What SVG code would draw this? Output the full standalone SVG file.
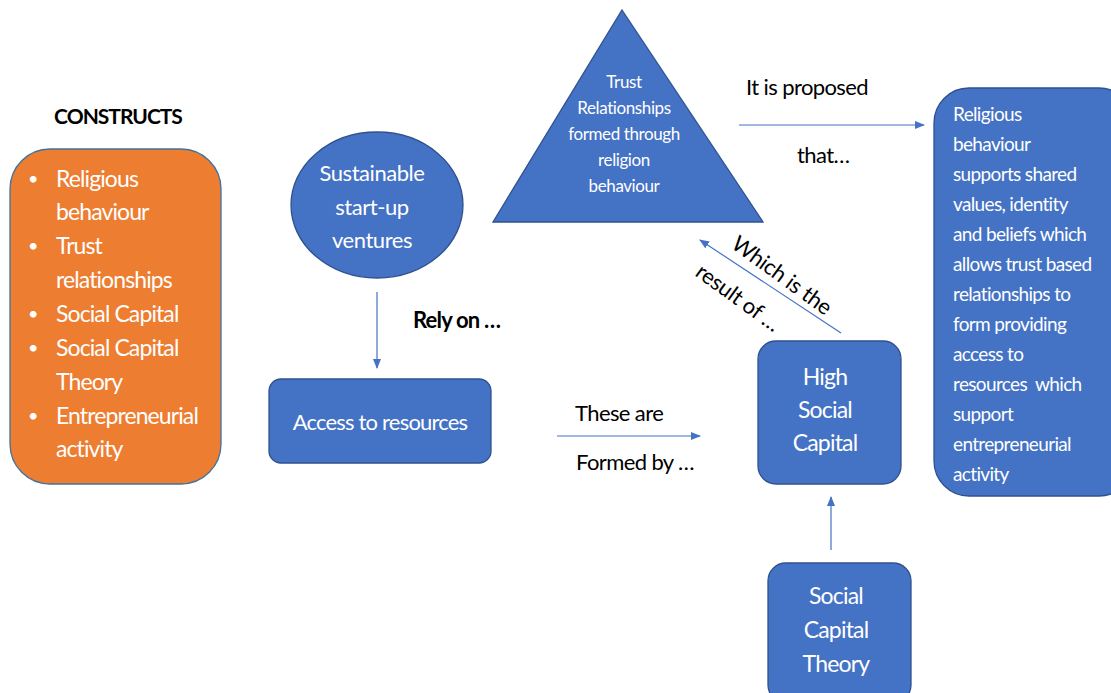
<svg xmlns="http://www.w3.org/2000/svg" width="1111" height="693" viewBox="0 0 1111 693">
  <defs>
    <marker id="arrow" markerWidth="10" markerHeight="8" refX="9" refY="4" orient="auto" markerUnits="userSpaceOnUse">
      <path d="M0,0 L10,4 L0,8 Z" fill="#4472C4"/>
    </marker>
  </defs>
  <style>
    text { font-family: Lato, "Open Sans", "Liberation Sans", sans-serif; }
    .node { fill: #4472C4; stroke: #2F528F; stroke-width: 1.3; }
    .orange { fill: #ED7D31; stroke: #41719C; stroke-width: 1.3; }
    .w { fill: #FFFFFF; }
    .k { fill: #000000; }
    .conn { stroke: #4472C4; stroke-width: 1.2; fill: none; marker-end: url(#arrow); }
  </style>
  <rect width="1111" height="693" fill="#FFFFFF"/>

  <!-- Constructs list -->
  <g id="constructs">
    <text x="118" y="124" font-size="21" font-weight="bold" class="k" text-anchor="middle" letter-spacing="-1">CONSTRUCTS</text>
    <rect class="orange" x="10" y="149" width="211" height="335" rx="40"/>
    <g class="w" font-size="18">
      <text x="28" y="185">•</text>
      <text x="28" y="252">•</text>
      <text x="28" y="320">•</text>
      <text x="28" y="354">•</text>
      <text x="28" y="422">•</text>
    </g>
    <g class="w" font-size="23" letter-spacing="-0.9">
      <text x="56" y="187">Religious</text>
      <text x="56" y="220">behaviour</text>
      <text x="56" y="254">Trust</text>
      <text x="56" y="288">relationships</text>
      <text x="56" y="322">Social Capital</text>
      <text x="56" y="356">Social Capital</text>
      <text x="56" y="390">Theory</text>
      <text x="56" y="424">Entrepreneurial</text>
      <text x="56" y="457">activity</text>
    </g>
  </g>

  <!-- Sustainable start-up ventures -->
  <g id="ventures">
    <ellipse class="node" cx="377" cy="205" rx="86" ry="73"/>
    <g class="w" font-size="22" text-anchor="middle" letter-spacing="-0.45">
      <text x="372" y="181">Sustainable</text>
      <text x="372" y="215">start-up</text>
      <text x="372" y="248">ventures</text>
    </g>
  </g>

  <!-- Access to resources -->
  <g id="access">
    <rect class="node" x="269" y="379" width="222" height="84" rx="12"/>
    <text x="380" y="430" font-size="22" class="w" text-anchor="middle" letter-spacing="-0.8">Access to resources</text>
  </g>

  <!-- Trust relationships triangle -->
  <g id="trust">
    <polygon class="node" points="622,10 763,222 493,222"/>
    <g class="w" font-size="17" text-anchor="middle" letter-spacing="-0.4">
      <text x="624" y="88">Trust</text>
      <text x="624" y="114">Relationships</text>
      <text x="624" y="140">formed through</text>
      <text x="624" y="166">religion</text>
      <text x="624" y="192">behaviour</text>
    </g>
  </g>

  <!-- Proposition -->
  <g id="proposition">
    <rect class="node" x="934" y="88" width="200" height="408" rx="35"/>
    <g class="w" font-size="19" letter-spacing="-0.65">
      <text x="953" y="121">Religious</text>
      <text x="953" y="151">behaviour</text>
      <text x="953" y="181">supports shared</text>
      <text x="953" y="211">values, identity</text>
      <text x="953" y="241">and beliefs which</text>
      <text x="953" y="271">allows trust based</text>
      <text x="953" y="301">relationships to</text>
      <text x="953" y="331">form providing</text>
      <text x="953" y="361">access to</text>
      <text x="953" y="391" xml:space="preserve">resources  which</text>
      <text x="953" y="421">support</text>
      <text x="953" y="451">entrepreneurial</text>
      <text x="953" y="481">activity</text>
    </g>
  </g>

  <!-- High Social Capital -->
  <g id="high-social-capital">
    <rect class="node" x="758" y="341" width="143" height="143" rx="18"/>
    <g class="w" font-size="23" text-anchor="middle" letter-spacing="-0.8">
      <text x="825" y="385">High</text>
      <text x="825" y="418">Social</text>
      <text x="825" y="451">Capital</text>
    </g>
  </g>

  <!-- Social Capital Theory -->
  <g id="social-capital-theory">
    <rect class="node" x="768" y="563" width="143" height="140" rx="18"/>
    <g class="w" font-size="23" text-anchor="middle" letter-spacing="-0.8">
      <text x="836" y="604">Social</text>
      <text x="836" y="638">Capital</text>
      <text x="836" y="672">Theory</text>
    </g>
  </g>

  <!-- Connectors and their labels -->
  <g id="connectors">
    <line class="conn" x1="377" y1="292" x2="377" y2="368"/>
    <line class="conn" x1="557" y1="436" x2="700" y2="436"/>
    <line class="conn" x1="739" y1="125" x2="924" y2="125"/>
    <line class="conn" x1="841" y1="333" x2="700" y2="240"/>
    <line class="conn" x1="831" y1="550" x2="831" y2="497"/>
    <g class="k" font-size="22" letter-spacing="-0.6">
      <text x="413" y="328" font-weight="bold" letter-spacing="-0.8">Rely on …</text>
      <text x="575" y="421">These are</text>
      <text x="576" y="470">Formed by …</text>
      <text x="746" y="95">It is proposed</text>
      <text x="797" y="163">that…</text>
      <text transform="translate(730,247) rotate(36)" letter-spacing="-0.3">Which is the</text>
      <text transform="translate(694,275) rotate(36)" letter-spacing="-0.3">result of …</text>
    </g>
  </g>
</svg>
